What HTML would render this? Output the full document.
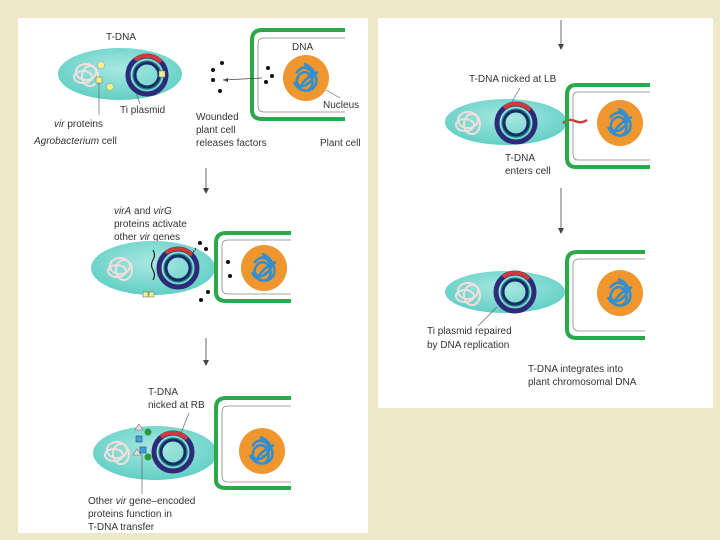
<!DOCTYPE html><html><head><style>
body{margin:0;width:720px;height:540px;background:#eee8c9;overflow:hidden}
svg{display:block}
text{font-family:"Liberation Sans",sans-serif;font-size:10px;fill:#333}
</style></head><body>
<svg width="720" height="540" viewBox="0 0 720 540">
<defs>
<radialGradient id="bg" cx="50%" cy="40%" r="65%"><stop offset="0" stop-color="#a8e8e0"/><stop offset="1" stop-color="#5ccdc3"/></radialGradient>
<g id="chrom" fill="none" stroke="#f4dede" stroke-width="2"><ellipse cx="0" cy="0" rx="10" ry="8"/><ellipse cx="4" cy="4" rx="8" ry="10"/><ellipse cx="-3" cy="5" rx="9" ry="6"/></g>
<g id="plas" fill="none"><circle r="19" stroke="#2d2a7a" stroke-width="5"/><circle r="14" stroke="#1d8a86" stroke-width="1.3"/><circle r="12" stroke="#1a2a6a" stroke-width="3"/><path d="M-12,-15 A19,19 0 0 1 14,-13" stroke="#d23a3a" stroke-width="4"/></g>
<g id="nuc"><circle r="23" fill="#f0962e"/><g fill="none" stroke="#2f8fd0" stroke-width="2.5"><path d="M-10,-5 C0,-18 14,-6 4,4 C-6,14 -14,4 -6,-4 C4,-12 12,8 2,12"/><path d="M-4,-10 C8,-12 10,4 0,6"/><path d="M-12,4 C-8,14 6,16 10,6 C12,-2 6,-12 -2,-14"/><path d="M-6,10 C-2,0 8,-4 12,-6"/></g></g>
</defs>
<rect x="18" y="18" width="350" height="515" fill="#fff"/>
<rect x="378" y="18" width="335" height="390" fill="#fff"/>

<!-- panel 1 -->
<ellipse cx="120" cy="74" rx="62" ry="26" fill="url(#bg)"/>
<use href="#chrom" x="86" y="72"/>
<use href="#plas" x="147" y="75"/>
<circle cx="101" cy="65" r="3.5" fill="#f5f08a" stroke="#999" stroke-width=".5"/><circle cx="110" cy="87" r="3.5" fill="#f5f08a" stroke="#999" stroke-width=".5"/>
<rect x="96" y="77" width="6" height="6" fill="#f5f08a" stroke="#777" stroke-width=".6"/><rect x="159" y="71" width="6" height="6" fill="#f5f08a" stroke="#777" stroke-width=".6"/>
<line x1="99" y1="83" x2="99" y2="115" stroke="#666" stroke-width=".7"/>
<line x1="136" y1="93" x2="140" y2="104" stroke="#666" stroke-width=".7"/>
<text x="106" y="40">T-DNA</text>
<text x="120" y="113">Ti plasmid</text>
<text x="54" y="127"><tspan font-style="italic">vir</tspan> proteins</text>
<text x="34" y="144"><tspan font-style="italic">Agrobacterium</tspan> cell</text>
<path d="M345,30 H262 Q252,30 252,40 V110 Q252,119 262,119 H345" fill="none" stroke="#2aa84a" stroke-width="4"/>
<path d="M345,38 H264 Q258,38 258,44 V106 Q258,112 264,112 H345" fill="none" stroke="#888" stroke-width=".8"/>
<use href="#nuc" x="306" y="78"/>
<line x1="326" y1="90" x2="340" y2="98" stroke="#666" stroke-width=".7"/>
<text x="292" y="50">DNA</text><text x="323" y="108">Nucleus</text>
<g fill="#111"><circle cx="222" cy="63" r="2"/><circle cx="213" cy="70" r="2"/><circle cx="213" cy="80" r="2"/><circle cx="220" cy="91" r="2"/><circle cx="268" cy="68" r="2"/><circle cx="272" cy="76" r="2"/><circle cx="266" cy="82" r="2"/></g>
<path d="M262,78 L223,80" stroke="#444" stroke-width=".8"/><path d="M223,80 l5,-2 v4z" fill="#444"/>
<text x="196" y="120">Wounded</text><text x="196" y="133">plant cell</text><text x="196" y="146">releases factors</text>
<text x="320" y="146">Plant cell</text>
<line x1="206" y1="168" x2="206" y2="192" stroke="#444" stroke-width=".8"/><path d="M203,188 l3,6 l3,-6z" fill="#444"/>

<!-- panel 2 -->
<text x="114" y="214"><tspan font-style="italic">virA</tspan> and <tspan font-style="italic">virG</tspan></text>
<text x="114" y="227">proteins activate</text>
<text x="114" y="240">other <tspan font-style="italic">vir</tspan> genes</text>
<ellipse cx="153" cy="268" rx="62" ry="27" fill="url(#bg)"/>
<use href="#chrom" x="120" y="266"/>
<use href="#plas" x="178" y="268"/>
<path d="M153,250 q3,5 0,10 q-3,5 0,10 q3,5 0,10" fill="none" stroke="#222" stroke-width="1.2"/>
<rect x="143" y="292" width="5" height="5" fill="#f5f08a" stroke="#777" stroke-width=".6"/><rect x="149" y="292" width="5" height="5" fill="#f5f08a" stroke="#777" stroke-width=".6"/>
<path d="M291,233 H226 Q216,233 216,243 V292 Q216,301 226,301 H291" fill="none" stroke="#2aa84a" stroke-width="4"/>
<path d="M291,240 H228 Q222,240 222,246 V288 Q222,294 228,294 H291" fill="none" stroke="#888" stroke-width=".8"/>
<use href="#nuc" x="264" y="268"/>
<g fill="#111"><circle cx="200" cy="243" r="2"/><circle cx="206" cy="249" r="2"/><circle cx="228" cy="262" r="2"/><circle cx="230" cy="276" r="2"/><circle cx="208" cy="292" r="2"/><circle cx="201" cy="300" r="2"/></g>
<path d="M196,248 l-4,6" stroke="#222" stroke-dasharray="2,1"/>
<line x1="206" y1="338" x2="206" y2="364" stroke="#444" stroke-width=".8"/><path d="M203,360 l3,6 l3,-6z" fill="#444"/>

<!-- panel 3 -->
<text x="148" y="395">T-DNA</text><text x="148" y="408">nicked at RB</text>
<ellipse cx="155" cy="453" rx="62" ry="27" fill="url(#bg)"/>
<use href="#chrom" x="117" y="450"/>
<use href="#plas" x="173" y="452"/>
<line x1="181" y1="433" x2="189" y2="413" stroke="#666" stroke-width=".7"/>
<path d="M135,430 l4,-6 l4,6z M133,455 l4,-6 l4,6z" fill="#f6d8e0" stroke="#777" stroke-width=".6"/>
<rect x="136" y="436" width="6" height="6" fill="#3fa0e0" stroke="#235" stroke-width=".5"/><rect x="140" y="447" width="6" height="6" fill="#3fa0e0" stroke="#235" stroke-width=".5"/>
<circle cx="148" cy="432" r="3.5" fill="#2a9a3a"/><circle cx="148" cy="457" r="3.5" fill="#2a9a3a"/>
<line x1="142" y1="455" x2="142" y2="494" stroke="#666" stroke-width=".7"/>
<path d="M291,398 H226 Q216,398 216,408 V480 Q216,488 226,488 H291" fill="none" stroke="#2aa84a" stroke-width="4"/>
<path d="M291,406 H228 Q222,406 222,412 V476 Q222,482 228,482 H291" fill="none" stroke="#888" stroke-width=".8"/>
<use href="#nuc" x="262" y="451"/>
<text x="88" y="504">Other <tspan font-style="italic">vir</tspan> gene–encoded</text>
<text x="88" y="517">proteins function in</text><text x="88" y="530">T-DNA transfer</text>

<!-- right panel -->
<line x1="561" y1="20" x2="561" y2="48" stroke="#444" stroke-width=".8"/><path d="M558,44 l3,6 l3,-6z" fill="#444"/>
<text x="469" y="82">T-DNA nicked at LB</text>
<ellipse cx="506" cy="122" rx="61" ry="23" fill="url(#bg)"/>
<use href="#chrom" x="468" y="120"/>
<use href="#plas" x="516" y="123"/>
<line x1="510" y1="105" x2="520" y2="88" stroke="#666" stroke-width=".7"/>
<path d="M563,123 q6,-5 12,-2 t12,-1" stroke="#d23a3a" stroke-width="2.5" fill="none"/>
<path d="M650,85 H576 Q567,85 567,95 V158 Q567,167 576,167 H650" fill="none" stroke="#2aa84a" stroke-width="4"/>
<path d="M650,92 H578 Q573,92 573,98 V154 Q573,160 578,160 H650" fill="none" stroke="#888" stroke-width=".8"/>
<use href="#nuc" x="620" y="123"/>
<text x="505" y="161">T-DNA</text><text x="505" y="174">enters cell</text>
<line x1="561" y1="188" x2="561" y2="232" stroke="#444" stroke-width=".8"/><path d="M558,228 l3,6 l3,-6z" fill="#444"/>
<ellipse cx="505" cy="292" rx="60" ry="21" fill="url(#bg)"/>
<use href="#chrom" x="468" y="291"/>
<use href="#plas" x="515" y="292"/>
<line x1="497" y1="307" x2="478" y2="326" stroke="#666" stroke-width=".7"/>
<path d="M645,252 H577 Q567,252 567,262 V329 Q567,338 577,338 H645" fill="none" stroke="#2aa84a" stroke-width="4"/>
<path d="M645,259 H579 Q573,259 573,265 V325 Q573,331 579,331 H645" fill="none" stroke="#888" stroke-width=".8"/>
<use href="#nuc" x="620" y="293"/>
<text x="427" y="334">Ti plasmid repaired</text><text x="427" y="348">by DNA replication</text>
<text x="528" y="372">T-DNA integrates into</text><text x="528" y="385">plant chromosomal DNA</text>
</svg>
</body></html>
